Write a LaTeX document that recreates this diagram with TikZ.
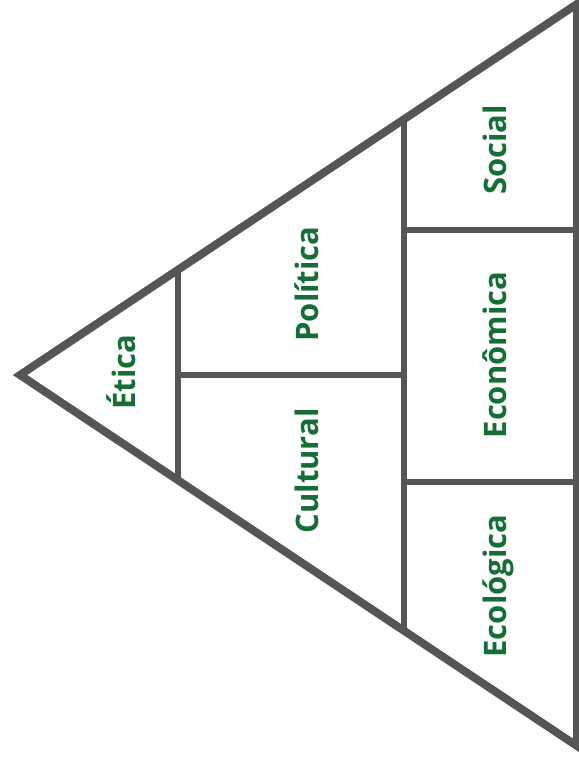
\documentclass[tikz,border=0pt]{standalone}
\usepackage{fontspec}
\setmainfont{Open Sans}
\usepackage{xcolor}
\definecolor{framegray}{RGB}{84,85,87}
\definecolor{dimgreen}{RGB}{22,110,55}

\begin{document}
\begin{tikzpicture}[
        x=1pt, y=-1pt,
        outer/.style={draw=framegray, line width=8pt, line join=miter},
        inner/.style={draw=framegray, line width=6pt},
        dim/.style={text=dimgreen, font=\fontsize{31}{31}\selectfont\bfseries, rotate=90, anchor=base, inner sep=0pt},
    ]
        \useasboundingbox (0,0) rectangle (578,776);

        \coordinate (apex)   at (20,375);
        \coordinate (top)    at (577,4);
        \coordinate (bottom) at (577,746);

        % frame
        \draw[outer] (apex) -- (top) -- (bottom) -- cycle;

        % dividers
        \coordinate (a1) at (178,270);
        \coordinate (a2) at (178,480);
        \coordinate (b1) at (404,120);
        \coordinate (b2) at (404,630);
        \draw[inner] (a1) -- (a2);
        \draw[inner] (b1) -- (b2);
        \coordinate (m1) at (178,375);
        \coordinate (m2) at (404,375);
        \draw[inner] (m1) -- (m2);
        \coordinate (s1) at (404,230);
        \coordinate (s2) at (577,230);
        \draw[inner] (s1) -- (s2);
        \coordinate (e1) at (404,482);
        \coordinate (e2) at (577,482);
        \draw[inner] (e1) -- (e2);

        % labels
        \node[dim] (etica)     at (135,372) {Ética};
        \node[dim] (politica)  at (318,284) {Política};
        \node[dim] (cultural)  at (318,471) {Cultural};
        \node[dim] (social)    at (506,150) {Social};
        \node[dim] (economica) at (506,355) {Econômica};
        \node[dim] (ecologica) at (506,586) {Ecológica};
    \end{tikzpicture}
\end{document}
